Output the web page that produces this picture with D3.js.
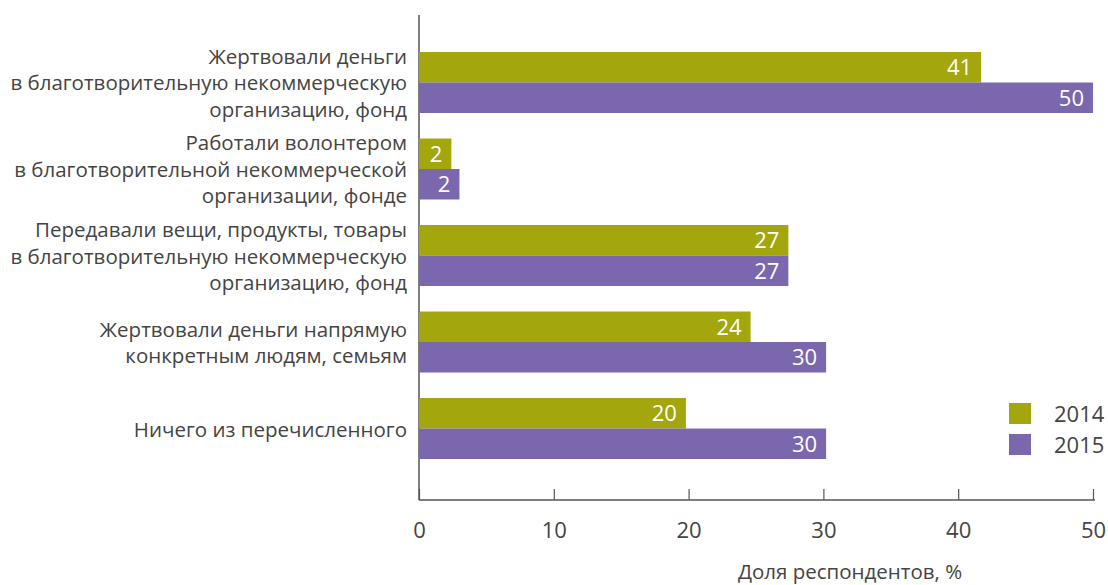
<!DOCTYPE html>
<html>
<head>
<meta charset="utf-8">
<script src="https://cdn.jsdelivr.net/npm/d3@7"></script>
<style>
  body { margin: 0; background: #fff; }
  text { font-family: "Open Sans", "Noto Sans", sans-serif; }
</style>
</head>
<body>
<div id="chart"></div>
<script>
const categories = [
  ['Жертвовали деньги', 'в благотворительную некоммерческую', 'организацию, фонд'],
  ['Работали волонтером', 'в благотворительной некоммерческой', 'организации, фонде'],
  ['Передавали вещи, продукты, товары', 'в благотворительную некоммерческую', 'организацию, фонд'],
  ['Жертвовали деньги напрямую', 'конкретным людям, семьям'],
  ['Ничего из перечисленного']
]
const years = ['2014', '2015']
const values2014 = [41.7, 2.4, 27.4, 24.6, 19.8]
const values2015 = [50, 3.0, 27.4, 30.2, 30.2]
const labels2014 = ['41', '2', '27', '24', '20']
const labels2015 = ['50', '2', '27', '30', '30']
const xTicks = [0, 10, 20, 30, 40, 50]
const colors = ['#a3a60c', '#7b67ad']

const width = 1108, height = 585
const svg = d3.select('#chart').append('svg')
  .attr('width', width)
  .attr('height', height)

const x = d3.scaleLinear().domain([0, 50]).range([419, 1093])
const y = d3.scaleBand().domain(d3.range(categories.length)).range([52, 459]).paddingInner(0.295)
const ySub = d3.scaleBand().domain(years).range([0, y.bandwidth()])

// axes
svg.append('line')
  .attr('x1', x(0)).attr('x2', x(0))
  .attr('y1', 15).attr('y2', 500)
  .attr('stroke', '#555').attr('stroke-width', 1.5)

const xAxis = d3.axisBottom(x).tickValues(xTicks).tickSize(-11).tickPadding(22)
const gx = svg.append('g')
  .attr('transform', 'translate(0,500)')
  .call(xAxis)
gx.select('.domain').attr('stroke', '#555').attr('stroke-width', 1.5)
  .attr('d', `M${x(0)},0H${x(50) + 2}`)
gx.selectAll('.tick line').attr('stroke', '#555').attr('stroke-width', 1.2)
gx.selectAll('.tick text')
  .attr('fill', '#444')
  .attr('font-size', 22)
  .attr('font-family', '"Open Sans", sans-serif')

svg.append('text')
  .attr('x', 850).attr('y', 579)
  .attr('text-anchor', 'middle')
  .attr('font-size', 20.5)
  .attr('fill', '#444')
  .text('Доля респондентов, %')

// bars
const series = [values2014, values2015]
const seriesLabels = [labels2014, labels2015]
years.forEach((yr, s) => {
  const g = svg.append('g').attr('class', 'series-' + yr)
  g.selectAll('rect')
    .data(series[s])
    .join('rect')
    .attr('x', x(0))
    .attr('y', (d, i) => y(i) + ySub(yr))
    .attr('width', d => x(d) - x(0))
    .attr('height', ySub.bandwidth())
    .attr('fill', colors[s])
  g.selectAll('text')
    .data(series[s])
    .join('text')
    .attr('x', d => x(d) - 9)
    .attr('y', (d, i) => y(i) + ySub(yr) + ySub.bandwidth() / 2 + 8)
    .attr('text-anchor', 'end')
    .attr('font-size', 22)
    .attr('fill', '#fff')
    .text((d, i) => seriesLabels[s][i])
})

// category labels
const lineH = 26.5
svg.append('g').selectAll('text')
  .data(categories)
  .join('text')
  .attr('text-anchor', 'end')
  .attr('font-size', 20.5)
  .attr('fill', '#444')
  .each(function (lines, i) {
    const cy = y(i) + y.bandwidth() / 2
    d3.select(this).selectAll('tspan')
      .data(lines)
      .join('tspan')
      .attr('x', 407)
      .attr('y', (d, j) => cy + 8 + (j - (lines.length - 1) / 2) * lineH)
      .text(d => d)
  })

// legend
const legend = svg.append('g').selectAll('g')
  .data(years)
  .join('g')
  .attr('transform', (d, i) => `translate(1009,${403 + i * 31})`)
legend.append('rect')
  .attr('width', 22).attr('height', 21)
  .attr('fill', (d, i) => colors[i])
legend.append('text')
  .attr('x', 45).attr('y', 19)
  .attr('font-size', 22)
  .attr('fill', '#444')
  .text(d => d)
</script>
</body>
</html>
